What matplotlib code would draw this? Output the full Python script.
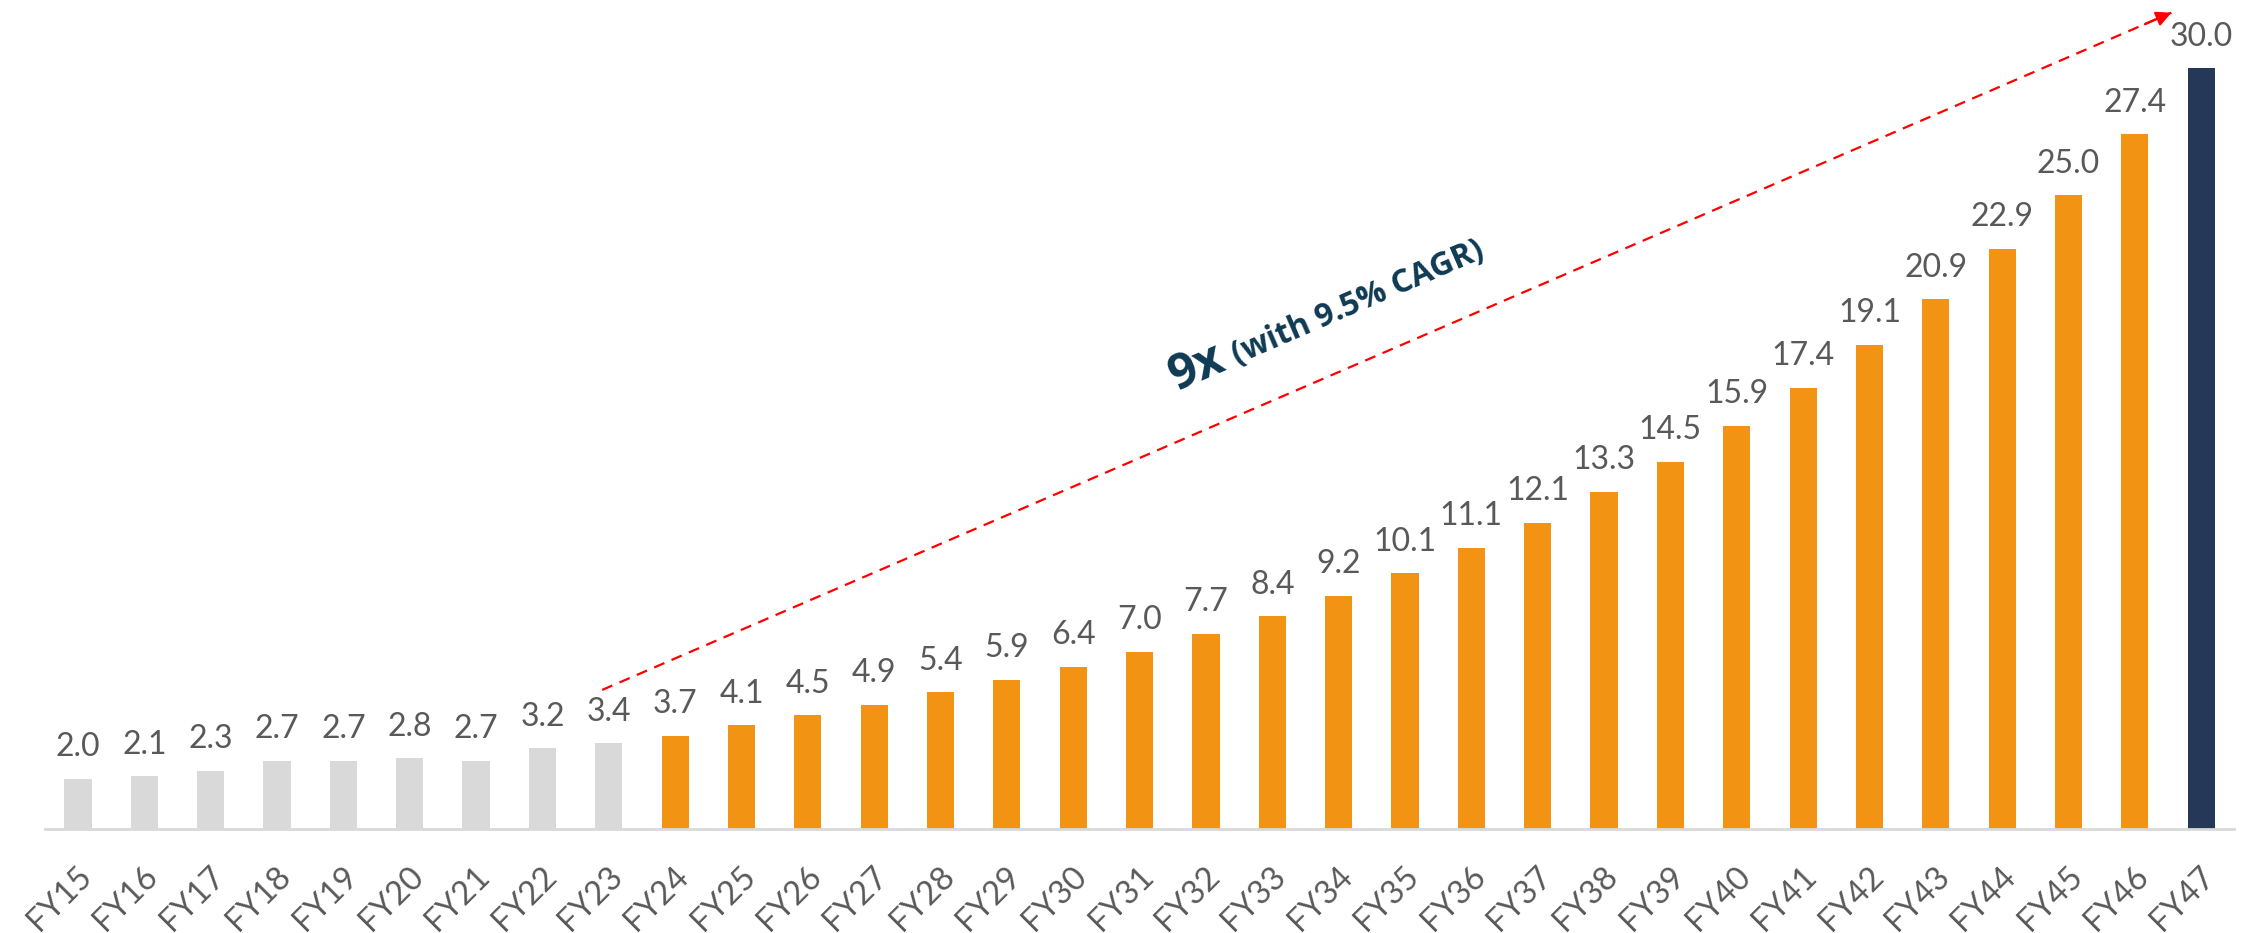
import matplotlib
matplotlib.use("Agg")
import matplotlib.pyplot as plt
import matplotlib.transforms as mtransforms
import numpy as np

categories = ["FY15","FY16","FY17","FY18","FY19","FY20","FY21","FY22","FY23",
              "FY24","FY25","FY26","FY27","FY28","FY29","FY30","FY31","FY32","FY33",
              "FY34","FY35","FY36","FY37","FY38","FY39","FY40","FY41","FY42","FY43",
              "FY44","FY45","FY46","FY47"]
values = [2.0,2.1,2.3,2.7,2.7,2.8,2.7,3.2,3.4,
          3.7,4.1,4.5,4.9,5.4,5.9,6.4,7.0,7.7,8.4,
          9.2,10.1,11.1,12.1,13.3,14.5,15.9,17.4,19.1,20.9,
          22.9,25.0,27.4,30.0]
n_actual = 9  # FY15-FY23 historical
annotation_big = "9x"
annotation_small = "(with 9.5% CAGR)"
arrow_start = (7.9, 5.5)
arrow_end = (31.55, 32.2)

GREY = "#D9D9D9"
ORANGE = "#F39313"
NAVY = "#253858"
LABEL = "#595959"
TEXTC = "#0E3A53"

fig = plt.figure(figsize=(22.62, 9.33), dpi=100)
ax = fig.add_axes([0.0198, 0.111, 0.968, 0.889])

x = np.arange(len(categories))
colors = [GREY]*n_actual + [ORANGE]*(len(values)-n_actual-1) + [NAVY]
bars = ax.bar(x, values, width=0.41, color=colors, zorder=2)

for xi, v in zip(x, values):
    ax.annotate(f"{v:.1f}", (xi, v), xytext=(0, 12), textcoords="offset points",
                ha="center", va="bottom", fontsize=23, color=LABEL, family="Lato")

ax.set_xlim(-0.5, len(categories)-0.5)
ax.set_ylim(0, 32.7)
ax.set_xticks(x)
ax.set_xticklabels(categories, rotation=45, ha="right", va="center",
                   rotation_mode="anchor", fontsize=23.5, color=LABEL, family="Lato")
ax.tick_params(axis="x", length=0, pad=30)
shift = mtransforms.ScaledTranslation(9/100, 0, fig.dpi_scale_trans)
for lab in ax.get_xticklabels():
    lab.set_transform(lab.get_transform() + shift)
ax.set_yticks([])
for s in ["top", "right", "left"]:
    ax.spines[s].set_visible(False)
ax.spines["bottom"].set_color(GREY)
ax.spines["bottom"].set_linewidth(2)

# dashed growth arrow
sx, sy = arrow_start
ex, ey = arrow_end
ax.plot([sx, ex], [sy, ey], color="#FF0000", lw=1.6, dashes=(5, 3.5), zorder=3, clip_on=False)
ax.annotate("", xy=(ex, ey), xytext=(ex - 0.4, ey - 0.4 * (ey - sy) / (ex - sx)),
            arrowprops=dict(arrowstyle="-|>,head_length=0.9,head_width=0.45",
                            color="#FF0000", lw=1.6, shrinkA=0, shrinkB=0),
            annotation_clip=False)

# rotated annotation text
fig.canvas.draw()
renderer = fig.canvas.get_renderer()
p0 = ax.transData.transform((sx, sy))
p1 = ax.transData.transform((ex, ey))
ang = np.degrees(np.arctan2(p1[1]-p0[1], p1[0]-p0[0]))
tx, ty = 16.55, 17.3
big_fs, small_fs = 35, 23
t1 = ax.text(tx, ty, annotation_big, fontsize=big_fs, fontweight="bold", color=TEXTC,
             family="Open Sans", rotation=ang, rotation_mode="anchor",
             ha="left", va="baseline")
tmp = ax.text(0, 0, annotation_big, fontsize=big_fs, fontweight="bold", family="Open Sans")
w = tmp.get_window_extent(renderer).width
tmp.remove()
gap = 10
ox = (w + gap) * np.cos(np.radians(ang)) * 72 / fig.dpi
oy = (w + gap) * np.sin(np.radians(ang)) * 72 / fig.dpi
ax.annotate(annotation_small, (tx, ty), xytext=(ox, oy), textcoords="offset points",
            fontsize=small_fs, fontweight="bold", color=TEXTC, family="Open Sans",
            rotation=ang, rotation_mode="anchor", ha="left", va="baseline")

fig.savefig("out.png", dpi=100, facecolor="white")
